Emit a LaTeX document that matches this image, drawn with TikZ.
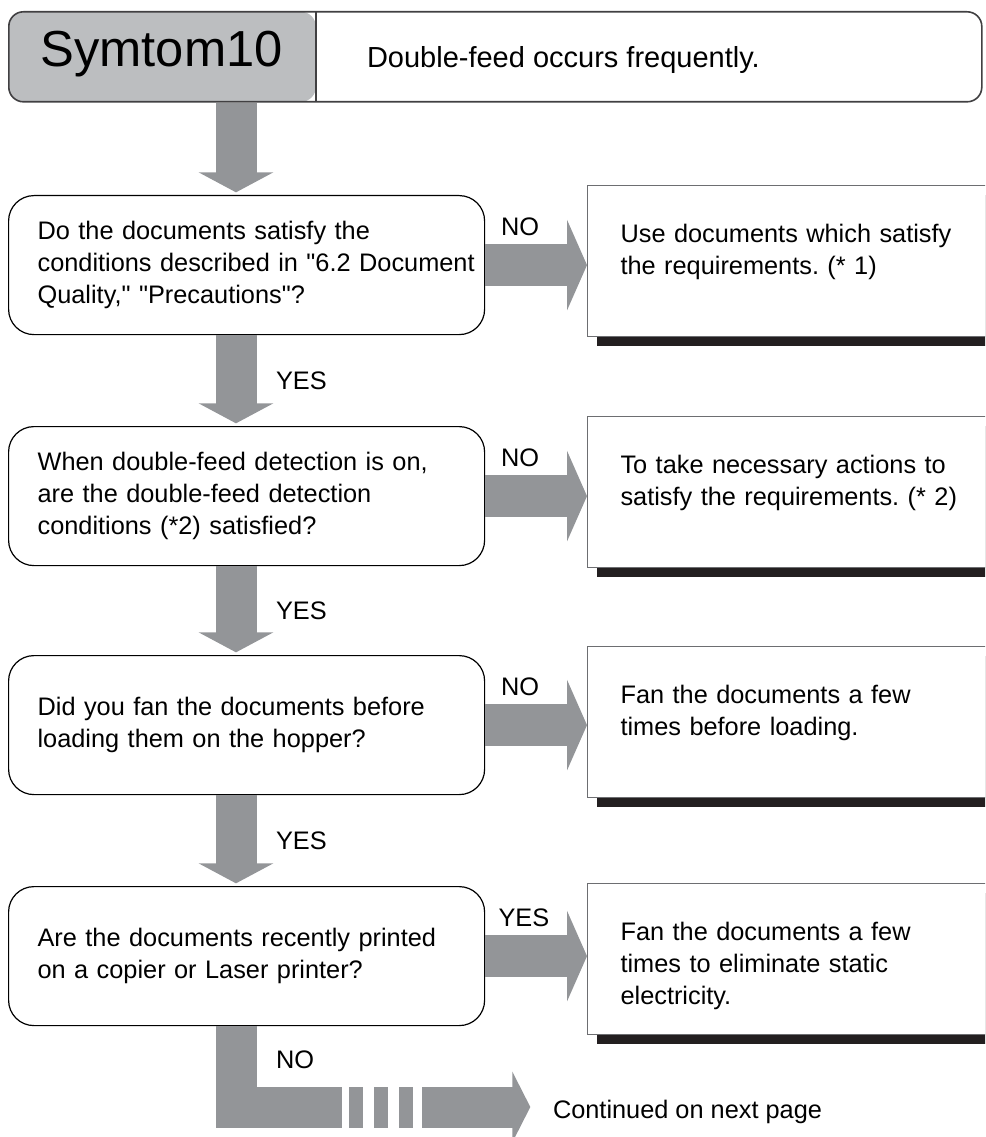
\documentclass[tikz,border=0pt]{standalone}
\usepackage{fontspec}
\setmainfont{Liberation Sans}
\usepackage{tikz}
\usetikzlibrary{arrows.meta, positioning, shadows, calc}
\definecolor{flowgray}{HTML}{939598}
\definecolor{hdrgray}{HTML}{BCBEC0}
\definecolor{hdrline}{HTML}{414042}
\definecolor{aboxline}{HTML}{6D6E71}
\definecolor{shadowblk}{HTML}{231F20}
\hfuzz=60pt
\frenchspacing

\begin{document}
\begin{tikzpicture}[x=0.75pt, y=-0.75pt, font=\fontsize{19}{24}\selectfont,
    qbox/.style={draw, line width=0.9pt, rounded corners=19pt, anchor=north west, text width=313.5pt, inner xsep=21.75pt, minimum height=104.25pt, align=left},
    abox/.style={draw=aboxline, line width=0.8pt, fill=white, anchor=north west, text width=260pt, inner xsep=24.75pt, inner ysep=0pt, text height=43pt, text depth=70.25pt, align=left, drop shadow={shadow xshift=6.75pt, shadow yshift=-6.75pt, fill=shadowblk, opacity=1}},
    flow/.style={draw=flowgray, line width=30.75pt},
    down/.style={flow, shorten >=2pt, -{Triangle[length=15pt, width=55.5pt]}},
    side/.style={draw=flowgray, line width=31.5pt, -{Triangle[length=15pt, width=67.5pt]}},
    lbl/.style={inner sep=0pt, outer sep=0pt}]
    \useasboundingbox (0,0) rectangle (985,1137);
    \clip (0,0) rectangle (985,1137);

    \node[draw=hdrline, line width=1.2pt, rounded corners=11pt, minimum width=729.75pt, minimum height=67.5pt, anchor=north west, inner sep=0pt,
        path picture={\fill[hdrgray] (path picture bounding box.north west) rectangle ([xshift=230.25pt]path picture bounding box.south west);
            \draw[hdrline, line width=1.2pt] ([xshift=230.25pt]path picture bounding box.north west) -- ([xshift=230.25pt]path picture bounding box.south west);}] (hdr) at (8,11) {};
    \node[font=\fontsize{38}{40}\selectfont] (sym) at (161.5,54) {Symtom10};
    \node[lbl, font=\fontsize{21.75}{26}\selectfont, anchor=west] (hdrtext) at (367,60) {Double-feed occurs frequently.};

    \node[qbox] (q1) at (8,195) {Do the documents satisfy the\\\mbox{conditions described in \textquotedbl6.2 Document}\\Quality,\textquotedbl{} \textquotedbl Precautions\textquotedbl?};
    \node[qbox] (q2) at (8,426) {When double-feed detection is on,\\are the double-feed detection\\conditions (*2) satisfied?};
    \node[qbox] (q3) at (8,655) {Did you fan the documents before\\loading them on the hopper?};
    \node[qbox] (q4) at (8,886) {Are the documents recently printed\\on a copier or Laser printer?};

    \node[abox] (a1) at (587,185) {Use documents which satisfy\\the requirements. (* 1)};
    \node[abox] (a2) at (587,416) {To take necessary actions to\\satisfy the requirements. (* 2)};
    \node[abox] (a3) at (587,646) {Fan the documents a few\\times before loading.};
    \node[abox] (a4) at (587,883) {Fan the documents a few\\times to eliminate static\\electricity.};

    \coordinate (spine) at (236,0);
    \draw[down] (hdr.south -| spine) -- (q1.north -| spine);
    \draw[down] (q1.south -| spine) -- (q2.north -| spine) node[lbl, midway, right=30pt] (y1) {YES};
    \draw[down] (q2.south -| spine) -- (q3.north -| spine) node[lbl, midway, right=30pt] (y2) {YES};
    \draw[down] (q3.south -| spine) -- (q4.north -| spine) node[lbl, midway, right=30pt] (y3) {YES};

    \draw[side] (q1.east) -- (q1.east -| a1.west) node[lbl, pos=0, above right=22pt and 12pt] (n1) {NO};
    \draw[side] (q2.east) -- (q2.east -| a2.west) node[lbl, pos=0, above right=22pt and 12pt] (n2) {NO};
    \draw[side] (q3.east) -- (q3.east -| a3.west) node[lbl, pos=0, above right=22pt and 12pt] (n3) {NO};
    \draw[side] (q4.east) -- (q4.east -| a4.west) node[lbl, pos=0, above right=22pt and 10pt] (y4) {YES};

    \node[lbl, anchor=west] (cont) at (553,1112) {Continued on next page};
    \coordinate (cut) at (342,1107);
    \coordinate (resume) at (422,1107);
    \draw[flow, line join=miter] (q4.south -| spine) |- (cut) node[lbl, pos=0.25, right=30pt, yshift=5pt] (n4) {NO};
    \foreach \x in {349,374,399}
        \draw[flow] (\x,1107) -- +(14,0);
    \draw[flow, shorten >=17pt, -{Triangle[length=13.5pt, width=52.5pt]}] (resume) -- (cont.west |- cut);
\end{tikzpicture}
\end{document}
